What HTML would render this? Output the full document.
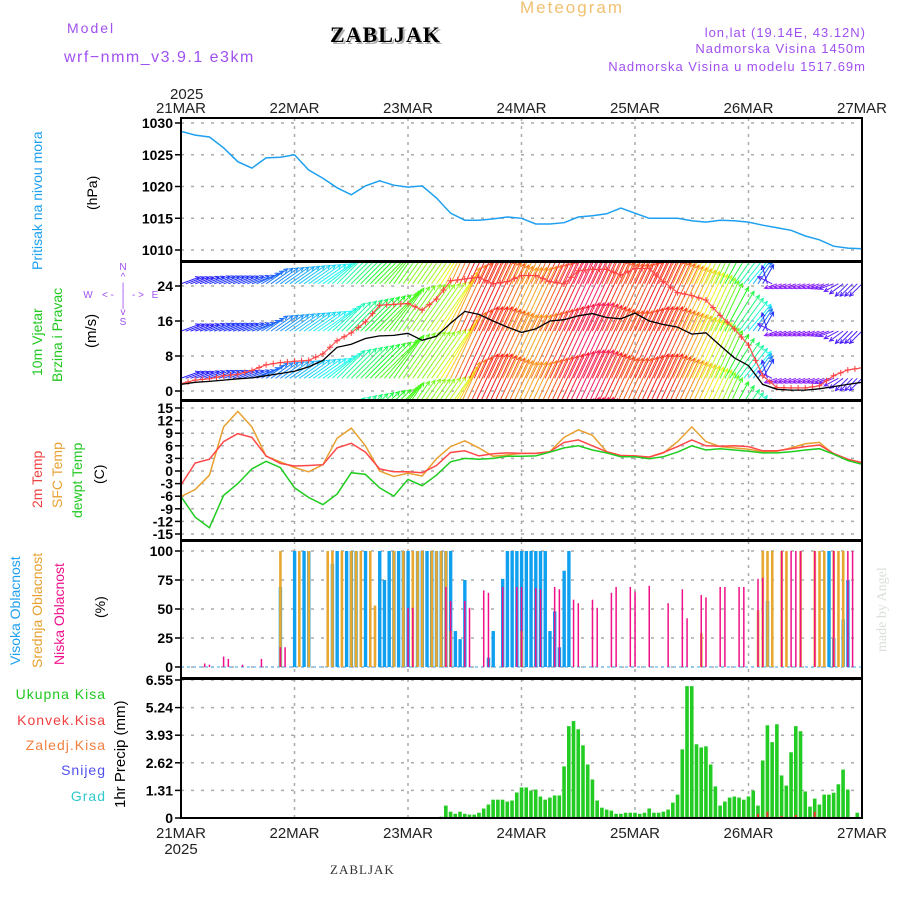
<!DOCTYPE html>
<html><head><meta charset="utf-8"><title>Meteogram ZABLJAK</title>
<style>
html,body{margin:0;padding:0;background:#fff;}
svg{display:block;font-family:"Liberation Sans",sans-serif;}
</style></head>
<body>
<svg id="chart" width="900" height="900" viewBox="0 0 900 900" xmlns="http://www.w3.org/2000/svg">
<defs>
<clipPath id="clipW"><rect x="181" y="262" width="681" height="138"/></clipPath>
</defs>
<rect x="0" y="0" width="900" height="900" fill="#fff"/>
<text x="67" y="33" font-size="14" fill="#a050f0" letter-spacing="2">Model</text>
<text x="64" y="62" font-size="16" fill="#a050f0" letter-spacing="1.5">wrf−nmm_v3.9.1 e3km</text>
<text x="332" y="44" font-family="Liberation Serif,serif" font-weight="bold" font-size="22" fill="#b0b0b0" letter-spacing="1">ZABLJAK</text>
<text x="330" y="42" font-family="Liberation Serif,serif" font-weight="bold" font-size="22" fill="#000" letter-spacing="1">ZABLJAK</text>
<text x="520" y="13" font-size="17" fill="#f0c070" letter-spacing="2">Meteogram</text>
<text x="866" y="37" font-size="13" fill="#a050f0" text-anchor="end" letter-spacing="1">lon,lat (19.14E, 43.12N)</text>
<text x="866" y="53" font-size="13" fill="#a050f0" text-anchor="end" letter-spacing="1">Nadmorska Visina 1450m</text>
<text x="866" y="71" font-size="13" fill="#a050f0" text-anchor="end" letter-spacing="1">Nadmorska Visina u modelu 1517.69m</text>
<text x="170" y="99" font-size="15" fill="#222">2025</text>
<text x="330" y="874" font-family="Liberation Serif,serif" font-size="13" fill="#333" letter-spacing="1">ZABLJAK</text>
<text transform="translate(886,652) rotate(-90)" font-family="Liberation Serif,serif" font-size="14" fill="#d8e0d8">made by Angel</text>

<text transform="translate(42,270) rotate(-90)" font-size="14" fill="#1ea0f0">Pritisak na nivou mora</text>
<text transform="translate(97,210) rotate(-90)" font-size="14" fill="#000">(hPa)</text>
<text transform="translate(42,376) rotate(-90)" font-size="14" fill="#20c820">10m Vjetar</text>
<text transform="translate(62,382) rotate(-90)" font-size="14" fill="#20c820">Brzina i Pravac</text>
<text transform="translate(96,348) rotate(-90)" font-size="15" fill="#000">(m/s)</text>
<g font-size="10" fill="#a050f0" text-anchor="middle">
<text x="123" y="270">N</text><text x="123" y="280">^</text><text x="123" y="290">|</text>
<text x="88" y="298">W</text><text x="108" y="298">&lt; -</text><text x="123" y="298">|</text><text x="138" y="298">- &gt;</text><text x="155" y="298">E</text>
<text x="123" y="307">|</text><text x="123" y="315">v</text><text x="123" y="325">S</text>
</g>
<text transform="translate(42,508) rotate(-90)" font-size="14" fill="#f04040">2m Temp</text>
<text transform="translate(62,508) rotate(-90)" font-size="14" fill="#e8a030">SFC Temp</text>
<text transform="translate(82,518) rotate(-90)" font-size="14" fill="#20c820">dewpt Temp</text>
<text transform="translate(104,484) rotate(-90)" font-size="14" fill="#000">(C)</text>
<text transform="translate(20,665) rotate(-90)" font-size="14" fill="#1ea0f0">Visoka Oblacnost</text>
<text transform="translate(42,668) rotate(-90)" font-size="14" fill="#e8a030">Srednja Oblacnost</text>
<text transform="translate(64,665) rotate(-90)" font-size="14" fill="#f0108a">Niska Oblacnost</text>
<text transform="translate(105,618) rotate(-90)" font-size="14" fill="#000">(%)</text>
<g font-size="14" text-anchor="end">
<text x="106" y="699" fill="#20c820" letter-spacing="1">Ukupna  Kisa</text>
<text x="106" y="725" fill="#f04040" letter-spacing="1">Konvek.Kisa</text>
<text x="106" y="750" fill="#f08040" letter-spacing="1">Zaledj.Kisa</text>
<text x="106" y="775" fill="#5050f0" letter-spacing="1">Snijeg</text>
<text x="106" y="801" fill="#30c8c8" letter-spacing="1">Grad</text>
</g>
<text transform="translate(125,808) rotate(-90)" font-size="15" fill="#000">1hr Precip (mm)</text>

<g id="grid"></g>
<g id="marks"></g>
<g id="frames"></g>
<g id="labels"></g>
</svg>
<script>
// ---------- DATA ----------
const dayLabels = ["21MAR","22MAR","23MAR","24MAR","25MAR","26MAR","27MAR"];
const pressureTicks = [1010,1015,1020,1025,1030];
const windTicks = [0,8,16,24];
const tempTicks = [-15,-12,-9,-6,-3,0,3,6,9,12,15];
const cloudTicks = [0,25,50,75,100];
const precipTicks = ["0","1.31","2.62","3.93","5.24","6.55"];
const pressure = [1028.7,1028.1,1027.8,1026.1,1023.9,1022.9,1024.5,1024.6,1025.0,1022.6,1021.3,1019.8,1018.7,1020.1,1020.9,1020.2,1019.9,1020.1,1018.2,1015.8,1014.7,1014.7,1014.9,1015.2,1015.0,1014.1,1014.1,1014.3,1015.2,1015.4,1015.7,1016.6,1015.8,1015.0,1015.0,1015.0,1014.6,1014.4,1014.7,1014.6,1014.4,1013.9,1013.5,1013.1,1012.2,1011.6,1010.6,1010.3,1010.2];
const windSpeed = [1.5,2,2.2,2.5,2.8,3,3.5,4,4.5,5.5,7.0,10,10.7,12,12.6,12.7,13.2,11.6,12.5,15.5,18.2,17.5,16,14.6,13.4,14.2,16,16.3,17.2,17.7,16.8,16.5,17.8,16,15.2,14.6,13.0,13.3,10.4,7.6,5.8,1.5,0.4,0.2,0.2,0.5,1.0,1.5,2.0];
const windGust = [1.7,2.5,2.8,3.5,3.8,4.7,6.0,6.5,6.8,7.0,8.5,11.5,13.3,15.8,19.6,19.8,20,18.5,21,25.2,25.6,26,24.5,25,26.4,26.4,25,24.5,27.5,27.8,27.8,26.5,28,28,25,22.5,21.8,20.8,17.3,14.2,10.5,3.5,0.8,0.7,0.7,1.2,3.5,4.8,5.3];
const arrowSpeed = [4.5,4.5,5,5,5,5.5,6,6.5,7,7.5,8,9,10,11,12,12,13,13,14,16,18,18,17,16,16,17,18,19,19,18,17,17,18,18,17,16,15,14,12,10,8,5,3,3,3,3,3.5,4,4];
const arrowDir = [20,20,20,20,20,20,35,35,35,35,35,45,45,45,45,55,55,55,55,65,65,65,65,65,65,65,65,65,65,65,65,65,65,65,65,65,65,65,65,55,50,60,200,200,200,200,200,225,225];
const temp2m = [-3.3,1.9,2.8,7.0,8.9,8.0,3.6,1.8,1.2,1.3,1.5,5.5,6.6,4.5,0.5,-0.2,-0.2,-0.4,1.3,4.4,4.8,3.6,4.1,4.3,4.2,4.2,4.6,6.8,7.4,6.0,4.6,3.7,3.6,3.3,4.4,5.8,7.4,6.0,5.9,6.0,5.8,4.8,4.8,5.3,5.8,6.2,4.2,2.8,2.0];
const tempSfc = [-6.1,-4.4,-1.0,10.5,14.2,10.5,3.5,2.2,0.8,-0.2,1.5,7.8,10.2,6.0,0.0,-1.3,-0.5,-1.2,2.9,5.8,7.2,5.5,3.5,3.8,4.2,4.2,4.6,8.0,9.8,8.5,4.6,3.7,3.6,3.3,4.3,7.0,10.5,7.0,5.8,5.5,5.2,4.6,4.7,5.5,6.5,6.8,4.0,2.8,1.8];
const dewpoint = [-6.1,-11,-13.5,-5.8,-3.0,0.5,2.3,0.8,-4.0,-6.3,-8.0,-5.5,-0.4,-0.8,-4.0,-6.0,-2.0,-3.5,-1.0,2.2,3.0,2.8,3.0,3.5,3.5,3.6,4.5,5.5,6.0,5.0,4.3,3.4,3.4,2.9,3.4,4.5,6.0,5.0,5.3,5.0,4.7,4.3,4.3,4.6,5.0,5.3,4.0,2.5,1.6];
const highHours = [21,24,26,27,32,33,35,36,37,39,42,43,44,45,46,47,48,50,51,52,53,54,55,56,57,58,59,60,65,66,68,69,70,71,72,73,74,75,76,77,78,79,80,81,82,124,137,138,140,141];
const highVals = [69,100,100,100,89,100,100,100,100,100,100,75,100,100,100,100,100,100,100,100,100,100,100,100,100,31,24,75,8,31,76,100,100,100,100,100,100,100,100,100,31,48,17,83,100,57,100,25,41,75];
const midHours = [21,25,27,31,32,34,36,37,38,40,41,45,47,49,50,51,53,54,55,56,57,72,110,122,123,124,125,127,128,131,134,135,136,138,139,140];
const midVals = [100,100,100,100,100,100,100,100,100,100,53,100,100,100,100,100,100,100,100,100,31,31,29,49,100,100,100,100,100,100,100,100,100,100,100,100];
const lowHours = [5,6,9,10,13,17,21,22,48,49,56,57,60,61,64,65,68,71,72,75,76,79,80,83,84,87,88,91,92,95,96,99,103,106,107,110,111,114,115,118,119,122,123,127,129,130,131,134,138,141,142];
const lowVals = [3,2,9,7,2,7,17,17,51,51,69,57,57,51,66,64,69,69,69,68,67,69,67,58,55,58,51,64,69,69,65,70,55,67,42,62,60,69,69,69,69,76,77,100,100,100,100,100,100,100,100];
const precipStartHour = 55;
const precip = [0.06,0.59,0.3,0.2,0.3,0.2,0.16,0.16,0.25,0.45,0.64,0.87,0.87,0.87,0.78,0.83,1.21,1.45,1.45,1.3,1.35,1.02,0.87,0.97,1.07,1.07,2.45,4.36,4.6,4.21,3.45,2.54,1.83,0.83,0.49,0.4,0.35,0.2,0.2,0.25,0.25,0.25,0.2,0.25,0.45,0.25,0.25,0.3,0.4,0.73,1.11,3.26,6.26,6.26,3.5,3.35,3.4,2.54,1.5,0.59,0.78,0.97,1.02,0.97,0.87,1.02,1.3,0.59,2.73,4.4,3.6,4.45,2.02,1.54,3.12,4.36,4.12,1.26,0.54,0.92,0.64,1.11,1.11,1.2,1.6,2.3,1.35,0,0.25];
const convHours = [122,124,127,130,134];
const convVals = [0.2,0.3,0.1,0.15,0.3];

// ---------- SCALES ----------
const X0 = 181, X1 = 862, HOURS = 144;
function X(h){ return X0 + h*(X1-X0)/HOURS; }
function yP(v){ return 123 + (1030-v)*6.35; }
function yW(v){ return 391 - v*4.375; }
function yT(v){ return 471 - v*4.2; }
function yC(v){ return 667 - v*1.16; }
function yR(v){ return 818 - v*(138/6.55); }

const NS = "http://www.w3.org/2000/svg";
function mk(tag, attrs, parent){
  const e = document.createElementNS(NS, tag);
  for (const k in attrs) e.setAttribute(k, attrs[k]);
  parent.appendChild(e);
  return e;
}
const grid = document.getElementById('grid');
const marks = document.getElementById('marks');
const frames = document.getElementById('frames');
const labels = document.getElementById('labels');

const panels = [
  {name:'pressure', top:118, bot:261, ticks:pressureTicks, y:yP, fmt:v=>String(v)},
  {name:'wind', top:262, bot:400, ticks:windTicks, y:yW, fmt:v=>String(v)},
  {name:'temp', top:401, bot:540, ticks:tempTicks, y:yT, fmt:v=>String(v)},
  {name:'cloud', top:541, bot:678, ticks:cloudTicks, y:yC, fmt:v=>String(v)},
  {name:'precip', top:679, bot:818, ticks:precipTicks.map(Number), y:yR, fmt:(v,i)=>precipTicks[i]}
];
panels.forEach(p=>{
  p.ticks.forEach((v,i)=>{
    const y = p.y(v);
    const gl = mk('line',{x1:X0,x2:X1,y1:y,y2:y,stroke:'#aaa','stroke-width':1.5,'stroke-dasharray':'3,7'},grid);
    
    
    const tk = mk('line',{x1:X0-6,x2:X0,y1:y,y2:y,stroke:'#000','stroke-width':1.5},frames);
    
    
    const t = mk('text',{x:X0-8,y:y+5,'text-anchor':'end','font-size':14,fill:'#000','font-weight':'bold'},labels);
    t.textContent = p.fmt(v,i);
    
    
  });
  for (let d=1; d<6; d++){
    const vl = mk('line',{x1:X(d*24),x2:X(d*24),y1:p.top,y2:p.bot,stroke:'#aaa','stroke-width':1.5,'stroke-dasharray':'3,5'},grid);
    
    
  }
  const fr = mk('rect',{x:X0,y:p.top,width:X1-X0,height:p.bot-p.top,fill:'none',stroke:'#000','stroke-width':2},frames);
  
  
});
dayLabels.forEach((lab,d)=>{
  const tt = mk('text',{x:X(d*24),y:113,'text-anchor':'middle','font-size':15,fill:'#222'},labels);
  tt.textContent = lab;
  
  
  const tb = mk('text',{x:X(d*24),y:838,'text-anchor':'middle','font-size':15,fill:'#222'},labels);
  tb.textContent = lab;
  
  
});
const by = mk('text',{x:181,y:854,'text-anchor':'middle','font-size':15,fill:'#222'},labels);
by.textContent = '2025';



function pathFrom(arr, yf){
  return arr.map((v,i)=>(i?'L':'M')+X(3*i).toFixed(1)+','+yf(v).toFixed(1)).join(' ');
}
function interp(arr, h){
  const f = h/3, i = Math.min(Math.floor(f), arr.length-2), t = f-i;
  return arr[i]*(1-t)+arr[i+1]*t;
}

// PRESSURE
const pl = mk('path',{d:pathFrom(pressure,yP),fill:'none',stroke:'#1ea0f0','stroke-width':1.5},marks);



// WIND
const wg = mk('g',{'clip-path':'url(#clipW)'},marks);


const rowLevels = [24.5,13.7,2.9,-7.9,-18.7];
for (let h=0; h<=144; h++){
  const s = interp(arrowSpeed, h);
  const a = interp(arrowDir, h)*Math.PI/180;
  let hue = 270 - (s-3)*18; if (hue<0) hue += 360;
  const col = 'hsl('+hue.toFixed(0)+',95%,55%)';
  const len = s*4.375;
  const dx = len*Math.cos(a), dy = -len*Math.sin(a);
  rowLevels.forEach(lv=>{
    const x0 = X(h), y0 = yW(lv), x1 = x0+dx, y1 = y0+dy;
    const hl = 4.5, ang = Math.atan2(dy,dx);
    const d = 'M'+x0.toFixed(1)+','+y0.toFixed(1)+'L'+x1.toFixed(1)+','+y1.toFixed(1)+
      'M'+(x1-hl*Math.cos(ang-0.45)).toFixed(1)+','+(y1-hl*Math.sin(ang-0.45)).toFixed(1)+'L'+x1.toFixed(1)+','+y1.toFixed(1)+
      'L'+(x1-hl*Math.cos(ang+0.45)).toFixed(1)+','+(y1-hl*Math.sin(ang+0.45)).toFixed(1);
    const ar = mk('path',{d:d,stroke:col,'stroke-width':1,fill:'none'},wg);
    
    
  });
}
const gl2 = mk('path',{d:pathFrom(windGust,yW),fill:'none',stroke:'#ff5050','stroke-width':1.2},wg);


for (let h=0; h<=144; h+=1.5){
  const x = X(h), y = yW(interp(windGust,h));
  const c = mk('path',{d:'M'+(x-3)+','+y+'h6M'+x+','+(y-3)+'v6',stroke:'#ff4040','stroke-width':1},wg);
  
  
}
const wl = mk('path',{d:pathFrom(windSpeed,yW),fill:'none',stroke:'#000','stroke-width':1.3},wg);



// TEMPERATURE
[[tempSfc,'#e8a030','sfc-temp-line'],[temp2m,'#ff4848','temp-2m-line'],[dewpoint,'#20cc20','dewpoint-line']].forEach(s=>{
  const e = mk('path',{d:pathFrom(s[0],yT),fill:'none',stroke:s[1],'stroke-width':1.5},marks);
  
  
});

// CLOUD
const cb = mk('line',{x1:X0,x2:X1,y1:yC(0),y2:yC(0),stroke:'#80c0f0','stroke-width':1.5,'stroke-dasharray':'3,3'},marks);


highHours.forEach((h,i)=>{
  const v = highVals[i];
  const r = mk('rect',{x:X(h)-1.6,y:yC(v),width:3.4,height:yC(0)-yC(v),fill:'#10a0f0'},marks);
  
  
});
midHours.forEach((h,i)=>{
  const v = midVals[i];
  const r = mk('rect',{x:X(h)-1.2,y:yC(v),width:2.6,height:yC(0)-yC(v),fill:'#e8a830'},marks);
  
  
});
lowHours.forEach((h,i)=>{
  const v = lowVals[i];
  const r = mk('rect',{x:X(h)-0.7,y:yC(v),width:1.5,height:yC(0)-yC(v),fill:'#f0108a'},marks);
  
  
});

// PRECIP
precip.forEach((v,i)=>{
  if (v<=0) return;
  const h = precipStartHour + i;
  const r = mk('rect',{x:X(h)-1.8,y:yR(v),width:3.6,height:yR(0)-yR(v),fill:'#22cc22'},marks);
  
  
});
convHours.forEach((h,i)=>{
  const v = convVals[i];
  const r = mk('rect',{x:X(h)-1,y:yR(v),width:2,height:yR(0)-yR(v),fill:'#ff3030'},marks);
  
  
});
</script>
</body></html>
